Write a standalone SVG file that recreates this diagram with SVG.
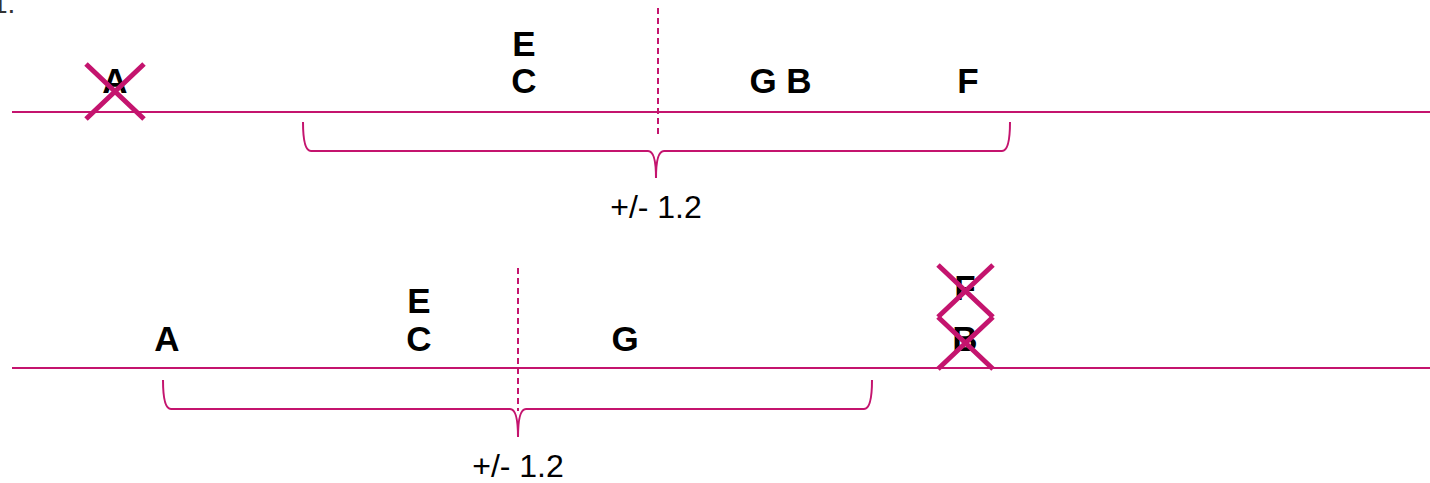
<svg xmlns="http://www.w3.org/2000/svg" width="1430" height="483" viewBox="0 0 1430 483">
<style>
.axis{stroke:#c4146e;stroke-width:2;fill:none}
.dash{stroke:#c4146e;stroke-width:2;stroke-dasharray:6 4;fill:none}
.brace{stroke:#c4146e;stroke-width:2;fill:none}
.cross{stroke:#c4146e;stroke-width:5;stroke-linecap:butt;fill:none}
.lbl{font-family:"Liberation Sans",Arial,sans-serif;font-weight:bold;font-size:35px;fill:#000;text-anchor:middle}
.rng{font-family:"Liberation Sans",Arial,sans-serif;font-size:32px;fill:#000;text-anchor:middle}
</style>
<rect width="1430" height="483" fill="#fff"/>
<text x="-8" y="13" font-family="Liberation Sans, Arial, sans-serif" font-size="28" fill="#333">1.</text>
<g id="connectors">
<line class="axis" x1="12" y1="112" x2="1430" y2="112"/>
<line class="dash" x1="658" y1="8" x2="658" y2="138"/>
<path class="brace" d="M303,122 Q303,151 311,151 L648,151 Q656,151 656,178 Q656,151 664,151 L1002,151 Q1010,151 1010,122"/>
<line class="axis" x1="12" y1="368" x2="1430" y2="368"/>
<line class="dash" x1="518" y1="268" x2="518" y2="411"/>
<path class="brace" d="M163,380 Q163,409 171,409 L510,409 Q518,409 518,437 Q518,409 526,409 L864,409 Q872,409 872,380"/>
</g>
<g id="top-A"><text class="lbl" x="115" y="93">A</text>
<path class="cross" d="M86,64 L144,119 M144,64 L86,119"/></g>
<g id="top-E"><text class="lbl" x="524" y="56">E</text></g>
<g id="top-C"><text class="lbl" x="524" y="93">C</text></g>
<g id="top-G"><text class="lbl" x="763" y="93">G</text></g>
<g id="top-B"><text class="lbl" x="799" y="93">B</text></g>
<g id="top-F"><text class="lbl" x="968" y="93">F</text></g>
<g id="top-range"><text class="rng" x="656" y="218">+/- 1.2</text></g>
<g id="bot-A"><text class="lbl" x="167" y="351">A</text></g>
<g id="bot-E"><text class="lbl" x="419" y="313">E</text></g>
<g id="bot-C"><text class="lbl" x="419" y="351">C</text></g>
<g id="bot-G"><text class="lbl" x="625" y="351">G</text></g>
<g id="bot-F"><text class="lbl" x="965" y="300">F</text>
<path class="cross" d="M938,265 L993,317 M993,265 L938,317"/></g>
<g id="bot-B"><text class="lbl" x="965" y="351">B</text>
<path class="cross" d="M938,317 L993,369 M993,317 L938,369"/></g>
<g id="bot-range"><text class="rng" x="518" y="477">+/- 1.2</text></g>
</svg>
